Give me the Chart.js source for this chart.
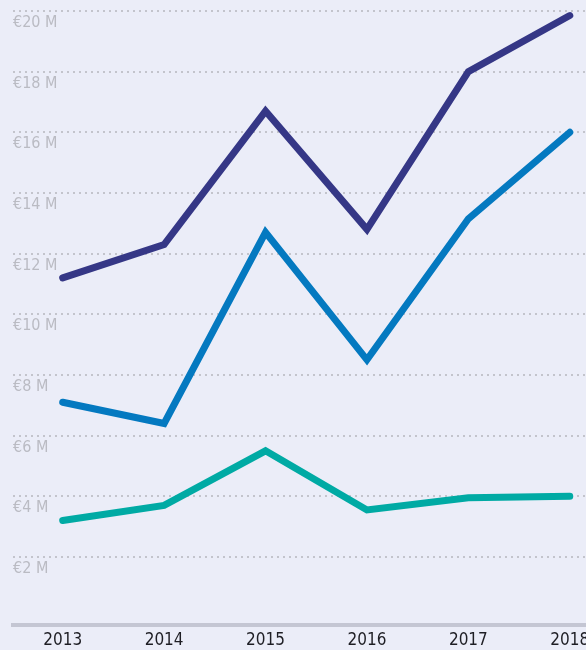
<!DOCTYPE html>
<html lang="en">
<head>
    <meta charset="UTF-8">
    <title>Revenue Graph</title>
    <script src="https://cdnjs.cloudflare.com/ajax/libs/Chart.js/4.4.0/chart.umd.min.js"></script>
    <style>
        html, body { margin: 0; padding: 0; background: #ebedf8; }
        .graph-item { width: 586px; height: 650px; }
    </style>
</head>
<body>
    <div class="graph-item">
        <canvas id="graphRevenue"></canvas>
    </div>

    <script>
        // data (in millions of euros)
        const years = ['2013', '2014', '2015', '2016', '2017', '2018'];
        const seriesTotal = [11.2, 12.3, 16.7, 12.8, 18.0, 19.85];
        const seriesMiddle = [7.1, 6.4, 12.7, 8.5, 13.15, 16.0];
        const seriesLower = [3.2, 3.7, 5.5, 3.55, 3.95, 4.0];
        const yTicks = [2, 4, 6, 8, 10, 12, 14, 16, 18, 20];

        const fontFamily = "'Liberation Sans Narrow', 'DejaVu Sans Condensed', 'Roboto', sans-serif";

        function toPoints(values) {
            return values.map((v, i) => ({ x: i, y: v }));
        }

        function makeDataset(values, color) {
            return {
                data: toPoints(values),
                borderColor: color,
                backgroundColor: color,
                borderWidth: 7,
                borderCapStyle: 'round',
                borderJoinStyle: 'miter',
                fill: false,
                tension: 0,
                pointRadius: 0,
                clip: false
            };
        }

        const ctx = document.getElementById('graphRevenue').getContext('2d');
        const chartRevenue = new Chart(ctx, {
            type: 'line',
            data: {
                datasets: [
                    makeDataset(seriesTotal, '#353786'),
                    makeDataset(seriesMiddle, '#0479c0'),
                    makeDataset(seriesLower, '#00aaa4')
                ]
            },
            options: {
                responsive: true,
                maintainAspectRatio: false,
                animation: false,
                layout: { padding: { left: 13, top: 11, right: -14, bottom: -7 } },
                plugins: {
                    legend: { display: false },
                    tooltip: { enabled: false }
                },
                scales: {
                    x: {
                        type: 'linear',
                        min: -0.49,
                        max: 5.16,
                        afterBuildTicks: function(axis) {
                            axis.ticks = years.map((y, i) => ({ value: i }));
                        },
                        afterFit: function(axis) {
                            axis.paddingRight = 0;
                        },
                        ticks: {
                            color: '#1e1e24',
                            font: { family: fontFamily, size: 17 },
                            padding: 6,
                            maxRotation: 0,
                            autoSkip: false,
                            callback: function(value) {
                                return years[value];
                            }
                        },
                        grid: { display: false, drawTicks: false },
                        border: { display: true, color: '#c4c6d3', width: 4 }
                    },
                    y: {
                        min: -0.23,
                        max: 20,
                        afterBuildTicks: function(axis) {
                            axis.ticks = yTicks.map(v => ({ value: v }));
                        },
                        ticks: {
                            mirror: true,
                            padding: 0,
                            labelOffset: 12,
                            color: '#babbc3',
                            font: { family: fontFamily, size: 16 },
                            callback: function(value) {
                                return '€' + value + ' M';
                            }
                        },
                        grid: {
                            color: '#c3c4cc',
                            lineWidth: 2,
                            drawTicks: false
                        },
                        border: { display: false, dash: [2, 4] }
                    }
                }
            }
        });
    </script>
</body>
</html>
